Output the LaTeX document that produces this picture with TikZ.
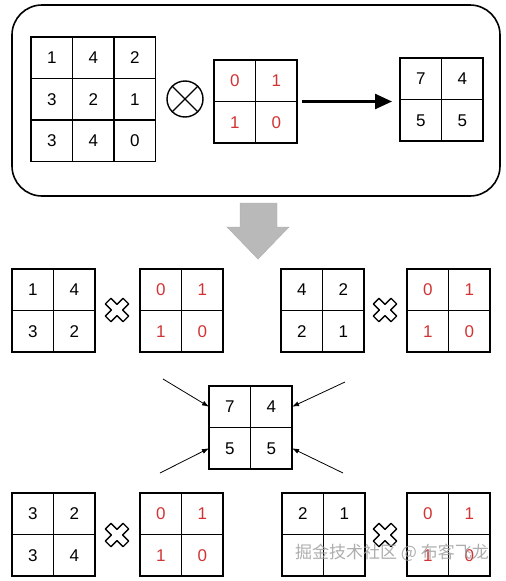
\documentclass[tikz,border=0pt]{standalone}
\usepackage{fontspec}
\setmainfont{Liberation Sans}
\newfontfamily\cjk{Noto Sans CJK SC}
\usetikzlibrary{arrows.meta}
\definecolor{kred}{RGB}{208,52,52}
\tikzset{
	cell/.style={draw, line width=1.6pt, minimum size=41.5pt, inner sep=0pt, outer sep=0pt, font=\fontsize{17}{20}\selectfont},
	kcell/.style={cell, text=kred},
	xsign/.style={draw, line width=1.3pt, fill=white, line join=round},
	feed/.style={-{Latex[length=7pt,width=5pt]}, line width=0.8pt}
}
\begin{document}
\begin{tikzpicture}[x=1pt,y=-1pt]
	\useasboundingbox (0,0) rectangle (506,581);
	% top: input (x) kernel -> output
	\draw[line width=1.6pt, rounded corners=30pt] (12,5) rectangle (500,196);
	\foreach \r/\c/\v in {0/0/1,0/1/4,0/2/2,1/0/3,1/1/2,1/2/1,2/0/3,2/1/4,2/2/0}
		\node[cell] (in\r\c) at (31+20.75+41.5*\c, 37+20.75+41.5*\r) {\v};
	\node[draw, circle, line width=1.4pt, minimum size=36pt, inner sep=0pt] (ot) at (185,99) {};
	\draw[line width=1.2pt] (ot.45) -- (ot.225) (ot.135) -- (ot.315);
	\foreach \nm/\x/\y in {k/214/60, ka/140/269, kb/407/269, kc/140/493, kd/407/493}
		\foreach \r/\c/\v in {0/0/0,0/1/1,1/0/1,1/1/0}
			\node[kcell] (\nm\r\c) at (\x+20.75+41.5*\c, \y+20.75+41.5*\r) {\v};
	\foreach \r/\c/\v in {0/0/7,0/1/4,1/0/5,1/1/5}
		\node[cell] (out\r\c) at (400+20.75+41.5*\c, 58+20.75+41.5*\r) {\v};
	\draw[line width=2.5pt, -{Triangle[length=17pt,width=15pt]}, shorten <=5pt, shorten >=8pt] (k01.south east) -- (k01.south east -| out00.west);
	
	% down arrow
	\draw[fill=gray!55, draw=gray!65] (240,203) -- (277,203) -- (277,227) -- (289,227) -- (258,259) -- (227,227) -- (240,227) -- cycle;
	
	% patches
	\foreach \r/\c/\v in {0/0/1,0/1/4,1/0/3,1/1/2}
		\node[cell] (pa\r\c) at (12+20.75+41.5*\c, 269+20.75+41.5*\r) {\v};
	\foreach \r/\c/\v in {0/0/4,0/1/2,1/0/2,1/1/1}
		\node[cell] (pb\r\c) at (281+20.75+41.5*\c, 269+20.75+41.5*\r) {\v};
	\foreach \r/\c/\v in {0/0/3,0/1/2,1/0/3,1/1/4}
		\node[cell] (pc\r\c) at (12+20.75+41.5*\c, 493+20.75+41.5*\r) {\v};
	\foreach \r/\c/\v in {0/0/2,0/1/1,1/0/{},1/1/{}}
		\node[cell] (pd\r\c) at (282+20.75+41.5*\c, 493+20.75+41.5*\r) {\v};
	\foreach \cx/\cy in {117/310, 385/310, 117/535, 385/535}
		\draw[xsign, shift={(\cx,\cy)}, rotate=45] (4,4) -- (4,12.5) -- (-4,12.5) -- (-4,4) -- (-12.5,4) -- (-12.5,-4) -- (-4,-4) -- (-4,-12.5) -- (4,-12.5) -- (4,-4) -- (12.5,-4) -- (12.5,4) -- cycle;
	
	% result
	\foreach \r/\c/\v in {0/0/7,0/1/4,1/0/5,1/1/5}
		\node[cell] (res\r\c) at (209+20.75+41.5*\c, 386+20.75+41.5*\r) {\v};
	\coordinate (ftl) at (163,379);
	\coordinate (ftr) at (345,382);
	\coordinate (fbl) at (160,473);
	\coordinate (fbr) at (343,473);
	\draw[feed] (ftl) -- (res00.west);
	\draw[feed] (ftr) -- (res01.east);
	\draw[feed] (fbl) -- (res10.west);
	\draw[feed] (fbr) -- (res11.east);
	
	\node[font=\cjk\fontsize{17}{20}\selectfont, text=gray!75, opacity=0.85, anchor=west, inner sep=0pt] (mark) at (295,553) {掘金技术社区 @ 布客飞龙};
\end{tikzpicture}
\end{document}
